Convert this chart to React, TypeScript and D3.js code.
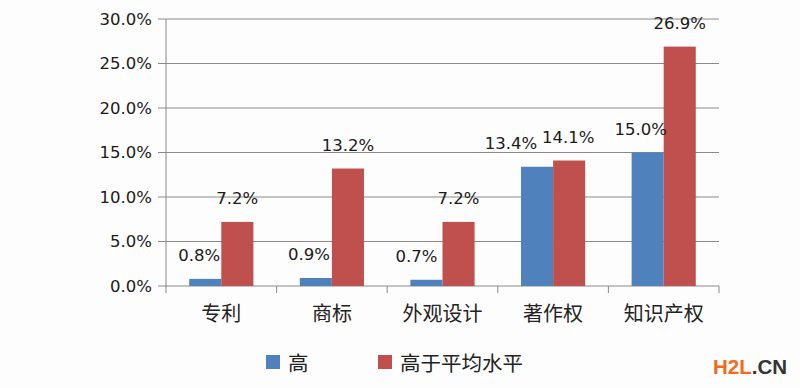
import React from "react";
import * as d3 from "d3";

const categories = ["专利", "商标", "外观设计", "著作权", "知识产权"];
const seriesNames = ["高", "高于平均水平"];
const seriesHigh = [0.8, 0.9, 0.7, 13.4, 15.0];
const seriesAboveAvg = [7.2, 13.2, 7.2, 14.1, 26.9];
const yTicks = [0, 5, 10, 15, 20, 25, 30];

const colors = ["#4F81BD", "#C0504D"];
// label horizontal nudges (layout only)
const labelDx = [
  [-6, -7, -10, -26, -7],
  [0, 0, 0, -1, 0],
];

const W = 800;
const H = 388;
const left = 166;
const right = 719;
const top = 19;
const bottom = 286;

export default function App() {
  const x0 = d3.scaleBand<string>().domain(categories).range([left, right]).padding(0);
  const bw = x0.bandwidth();
  const x1 = d3.scaleBand<string>().domain(seriesNames).range([bw * 0.21, bw * 0.79]).padding(0);
  const y = d3.scaleLinear().domain([0, 30]).range([bottom, top]);
  const series = [seriesHigh, seriesAboveAvg];
  const numFont = "'DejaVu Sans', sans-serif";
  const cjkFont = "'Noto Sans CJK SC', sans-serif";
  const grid = "#8a8a8a";

  return (
    <svg
      width={W}
      height={H}
      style={{ position: "absolute", left: 0, top: 0, background: "#fdfdfd" }}
    >
      {yTicks.map((t) => (
        <g key={t}>
          <line x1={left - 8} x2={right} y1={y(t)} y2={y(t)} stroke={grid} strokeWidth={1} />
          <text
            x={152}
            y={y(t)}
            textAnchor="end"
            dominantBaseline="central"
            fontFamily={numFont}
            fontSize={16.5}
            fill="#1a1a1a"
          >
            {t.toFixed(1)}%
          </text>
        </g>
      ))}
      <line x1={left} x2={left} y1={top} y2={bottom + 7} stroke={grid} strokeWidth={1} />
      {categories.map((c, i) => (
        <line
          key={"t" + i}
          x1={(x0(c) as number) + bw}
          x2={(x0(c) as number) + bw}
          y1={bottom}
          y2={bottom + 7}
          stroke={grid}
          strokeWidth={1}
        />
      ))}
      {series.map((vals, si) =>
        vals.map((v, ci) => {
          const bx = (x0(categories[ci]) as number) + (x1(seriesNames[si]) as number);
          return (
            <rect
              key={si + "-" + ci}
              x={bx}
              y={y(v)}
              width={x1.bandwidth()}
              height={bottom - y(v)}
              fill={colors[si]}
            />
          );
        })
      )}
      {series.map((vals, si) =>
        vals.map((v, ci) => {
          const cx =
            (x0(categories[ci]) as number) +
            (x1(seriesNames[si]) as number) +
            x1.bandwidth() / 2 +
            labelDx[si][ci];
          return (
            <text
              key={"l" + si + "-" + ci}
              x={cx}
              y={y(v) - 23}
              textAnchor="middle"
              dominantBaseline="central"
              fontFamily={numFont}
              fontSize={16.5}
              fill="#1a1a1a"
            >
              {v.toFixed(1)}%
            </text>
          );
        })
      )}
      {categories.map((c) => (
        <text
          key={"c" + c}
          x={(x0(c) as number) + bw / 2}
          y={312}
          textAnchor="middle"
          dominantBaseline="central"
          fontFamily={cjkFont}
          fontSize={20}
          fill="#222"
        >
          {c}
        </text>
      ))}
      <rect x={266} y={355} width={14} height={14} fill={colors[0]} />
      <text x={288} y={362} dominantBaseline="central" fontFamily={cjkFont} fontSize={20.5} fill="#222">
        {seriesNames[0]}
      </text>
      <rect x={378} y={355} width={14} height={14} fill={colors[1]} />
      <text x={400} y={362} dominantBaseline="central" fontFamily={cjkFont} fontSize={20.5} fill="#222">
        {seriesNames[1]}
      </text>
      <text
        x={713}
        y={366}
        dominantBaseline="central"
        fontFamily="'Liberation Sans', Arial, sans-serif"
        fontWeight="bold"
        fontSize={20.5}
      >
        <tspan fill="#F26A1B">H2L</tspan>
        <tspan fill="#333333">.CN</tspan>
      </text>
    </svg>
  );
}
